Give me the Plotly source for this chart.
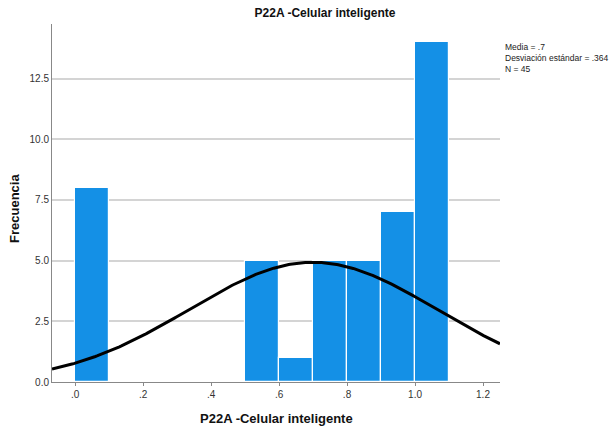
import numpy as np
import plotly.graph_objects as go

# Data
bin_starts = [0.0, 0.5, 0.6, 0.7, 0.8, 0.9, 1.0]
counts = [8, 5, 1, 5, 5, 7, 14]
bin_width = 0.1
mean_val = 0.7
sd_val = 0.364
n_val = 45
x_tickvals = [0.0, 0.2, 0.4, 0.6, 0.8, 1.0, 1.2]
x_ticktext = [".0", ".2", ".4", ".6", ".8", "1.0", "1.2"]
y_tickvals = [0.0, 2.5, 5.0, 7.5, 10.0, 12.5]

x_range = [-0.068, 1.25]
y_range = [0, 14.75]

centers = [b + bin_width / 2 for b in bin_starts]

# normal curve from summary stats
xc = np.linspace(x_range[0], x_range[1], 300)
yc = n_val * bin_width / (sd_val * np.sqrt(2 * np.pi)) * np.exp(-0.5 * ((xc - mean_val) / sd_val) ** 2)

fig = go.Figure()
fig.add_trace(go.Bar(
    x=centers, y=counts, width=[bin_width] * len(counts),
    marker=dict(color="#1490E6", line=dict(color="#FFFFFF", width=1.2)),
    showlegend=False, hoverinfo="skip",
))
fig.add_trace(go.Scatter(
    x=xc, y=yc, mode="lines", line=dict(color="black", width=3),
    showlegend=False, hoverinfo="skip",
))

L, R, T, B = 52, 500, 24, 382
W, H = 613, 432
font_fam = "Liberation Sans, Arial, sans-serif"
fig.update_layout(
    width=W, height=H,
    margin=dict(l=L, r=W - R, t=T, b=H - B),
    paper_bgcolor="white", plot_bgcolor="white",
    font=dict(family=font_fam, color="#222222"),
    title=dict(text="<b>P22A -Celular inteligente</b>", x=325 / W, xanchor="center",
               y=1 - 13 / H, yanchor="middle", font=dict(size=12, color="#111111")),
    bargap=0,
    xaxis=dict(
        range=x_range, tickvals=x_tickvals, ticktext=x_ticktext, automargin=False,
        showgrid=False, zeroline=False, showline=True, linecolor="#888888", linewidth=1,
        ticks="outside", ticklen=3, tickcolor="#888888",
        tickfont=dict(size=10, color="#333333"),
    ),
    yaxis=dict(
        range=y_range, tickvals=y_tickvals, tickformat=".1f", automargin=False,
        showgrid=True, gridcolor="#D4D4D4", gridwidth=1.5,
        zeroline=False, showline=True, linecolor="#888888", linewidth=1,
        ticks="", tickfont=dict(size=10, color="#333333"),
    ),
)

pw, ph = R - L, B - T
def px(x):
    return (x - L) / pw
def py(y):
    return (B - y) / ph

fig.add_annotation(x=px(276.5), y=py(418), xref="paper", yref="paper", xanchor="center", yanchor="middle",
                   text="<b>P22A -Celular inteligente</b>", showarrow=False,
                   font=dict(size=13, color="#111111", family=font_fam))
fig.add_annotation(x=px(15), y=py(209), xref="paper", yref="paper", xanchor="center", yanchor="middle",
                   text="<b>Frecuencia</b>", showarrow=False, textangle=-90,
                   font=dict(size=13, color="#111111", family=font_fam))
fig.add_annotation(
    x=px(503), y=py(40), xref="paper", yref="paper", xanchor="left", yanchor="top",
    text="Media = .7<br>Desviación estándar = .364<br>N = " + str(n_val),
    showarrow=False, align="left", font=dict(size=8.5, color="#222222", family=font_fam),
)

fig.write_html("out.html", config={"displayModeBar": False},
               post_script="document.body.style.margin='0';document.body.style.overflow='hidden';")
